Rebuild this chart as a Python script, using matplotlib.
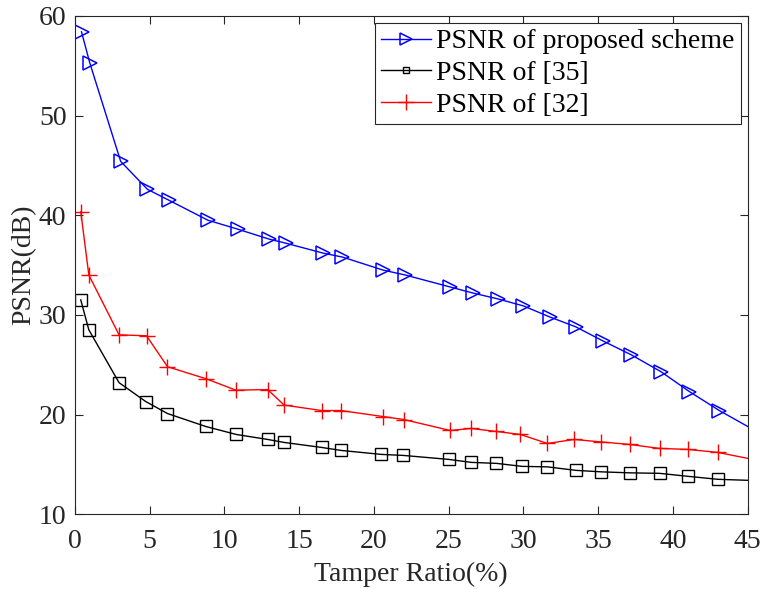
import matplotlib
matplotlib.use('Agg')
import matplotlib.pyplot as plt

plt.rcParams['font.family'] = ['Liberation Serif', 'DejaVu Serif']

# Tamper ratio (%) and PSNR (dB)
ratio_prop = [0.45, 1.0, 3.07, 4.86, 6.3, 8.9, 10.9, 13.0, 14.1, 16.6, 17.9, 20.6,
              22.1, 25.1, 26.6, 28.3, 30.0, 31.75, 33.5, 35.3, 37.2, 39.2, 41.1,
              43.1, 45.0]
psnr_prop = [58.4, 55.3, 45.4, 42.6, 41.5, 39.5, 38.6, 37.6, 37.2, 36.2, 35.8, 34.5,
             34.0, 32.8, 32.2, 31.6, 30.9, 29.8, 28.8, 27.4, 26.0, 24.3, 22.3,
             20.4, 18.8]

ratio_35 = [0.4, 0.94, 2.96, 4.75, 6.2, 8.76, 10.8, 12.9, 14.0, 16.5, 17.8, 20.5,
            21.95, 25.0, 26.5, 28.2, 29.9, 31.6, 33.5, 35.2, 37.1, 39.1, 41.0,
            43.0, 45.0]
psnr_35 = [31.5, 28.5, 23.2, 21.3, 20.1, 18.8, 18.0, 17.5, 17.2, 16.7, 16.4, 16.0,
           15.9, 15.5, 15.2, 15.1, 14.8, 14.75, 14.4, 14.25, 14.15, 14.1, 13.8,
           13.5, 13.4]

ratio_32 = [0.4, 0.94, 2.96, 4.8, 6.2, 8.76, 10.76, 12.9, 14.0, 16.5, 17.8, 20.6,
            22.0, 25.1, 26.5, 28.2, 29.8, 31.6, 33.4, 35.2, 37.1, 39.1, 41.0,
            43.0, 45.0]
psnr_32 = [40.35, 34.0, 28.0, 27.9, 24.8, 23.6, 22.45, 22.5, 20.95, 20.4, 20.4, 19.8,
           19.5, 18.4, 18.6, 18.3, 18.0, 17.1, 17.5, 17.25, 17.0, 16.6, 16.5,
           16.2, 15.6]

fig = plt.figure(figsize=(7.63, 5.89), dpi=100)
ax = fig.add_axes([0.098, 0.127, 0.882, 0.846])

n = len(ratio_prop) - 1  # last point sits on the axis edge, no marker
ax.plot(ratio_prop, psnr_prop, color='#0000ff', lw=1.0, marker='>', ms=10,
        mfc='none', mew=1.1, markevery=list(range(n)),
        label='PSNR of proposed scheme')
ax.plot(ratio_35, psnr_35, color='black', lw=1.0, marker='s', ms=8,
        mfc='none', mew=1.0, markevery=list(range(n)), label='PSNR of [35]')
ax.plot(ratio_32, psnr_32, color='#ff0000', lw=1.0, marker='+', ms=12,
        mew=1.0, markevery=list(range(n)), label='PSNR of [32]')

ax.set_xlim(0, 45)
ax.set_ylim(10, 60)
ax.set_xticks(range(0, 46, 5))
ax.set_yticks(range(10, 61, 10))
ax.tick_params(direction='in', top=True, right=True, labelsize=20,
               colors='#262626', length=6, width=0.8)
ax.tick_params(axis='x', pad=11)
ax.tick_params(axis='y', pad=6)
for s in ax.spines.values():
    s.set_color('#262626')
    s.set_linewidth(0.8)

ax.set_xlabel('Tamper Ratio(%)', fontsize=20, color='#262626', labelpad=5)
ax.set_ylabel('PSNR(dB)', fontsize=20, color='#262626', labelpad=2)

leg = ax.legend(loc='upper right', fontsize=20, frameon=True, fancybox=False,
                edgecolor='#262626', framealpha=1, borderpad=0.22,
                labelspacing=0.22, handlelength=1.8, handletextpad=0.18,
                borderaxespad=0.25)
leg.get_frame().set_linewidth(0.8)
leg.legend_handles[0].set_markersize(9)
leg.legend_handles[1].set_markersize(5)
leg.legend_handles[2].set_markersize(11)

fig.savefig('out.png', dpi=100)
